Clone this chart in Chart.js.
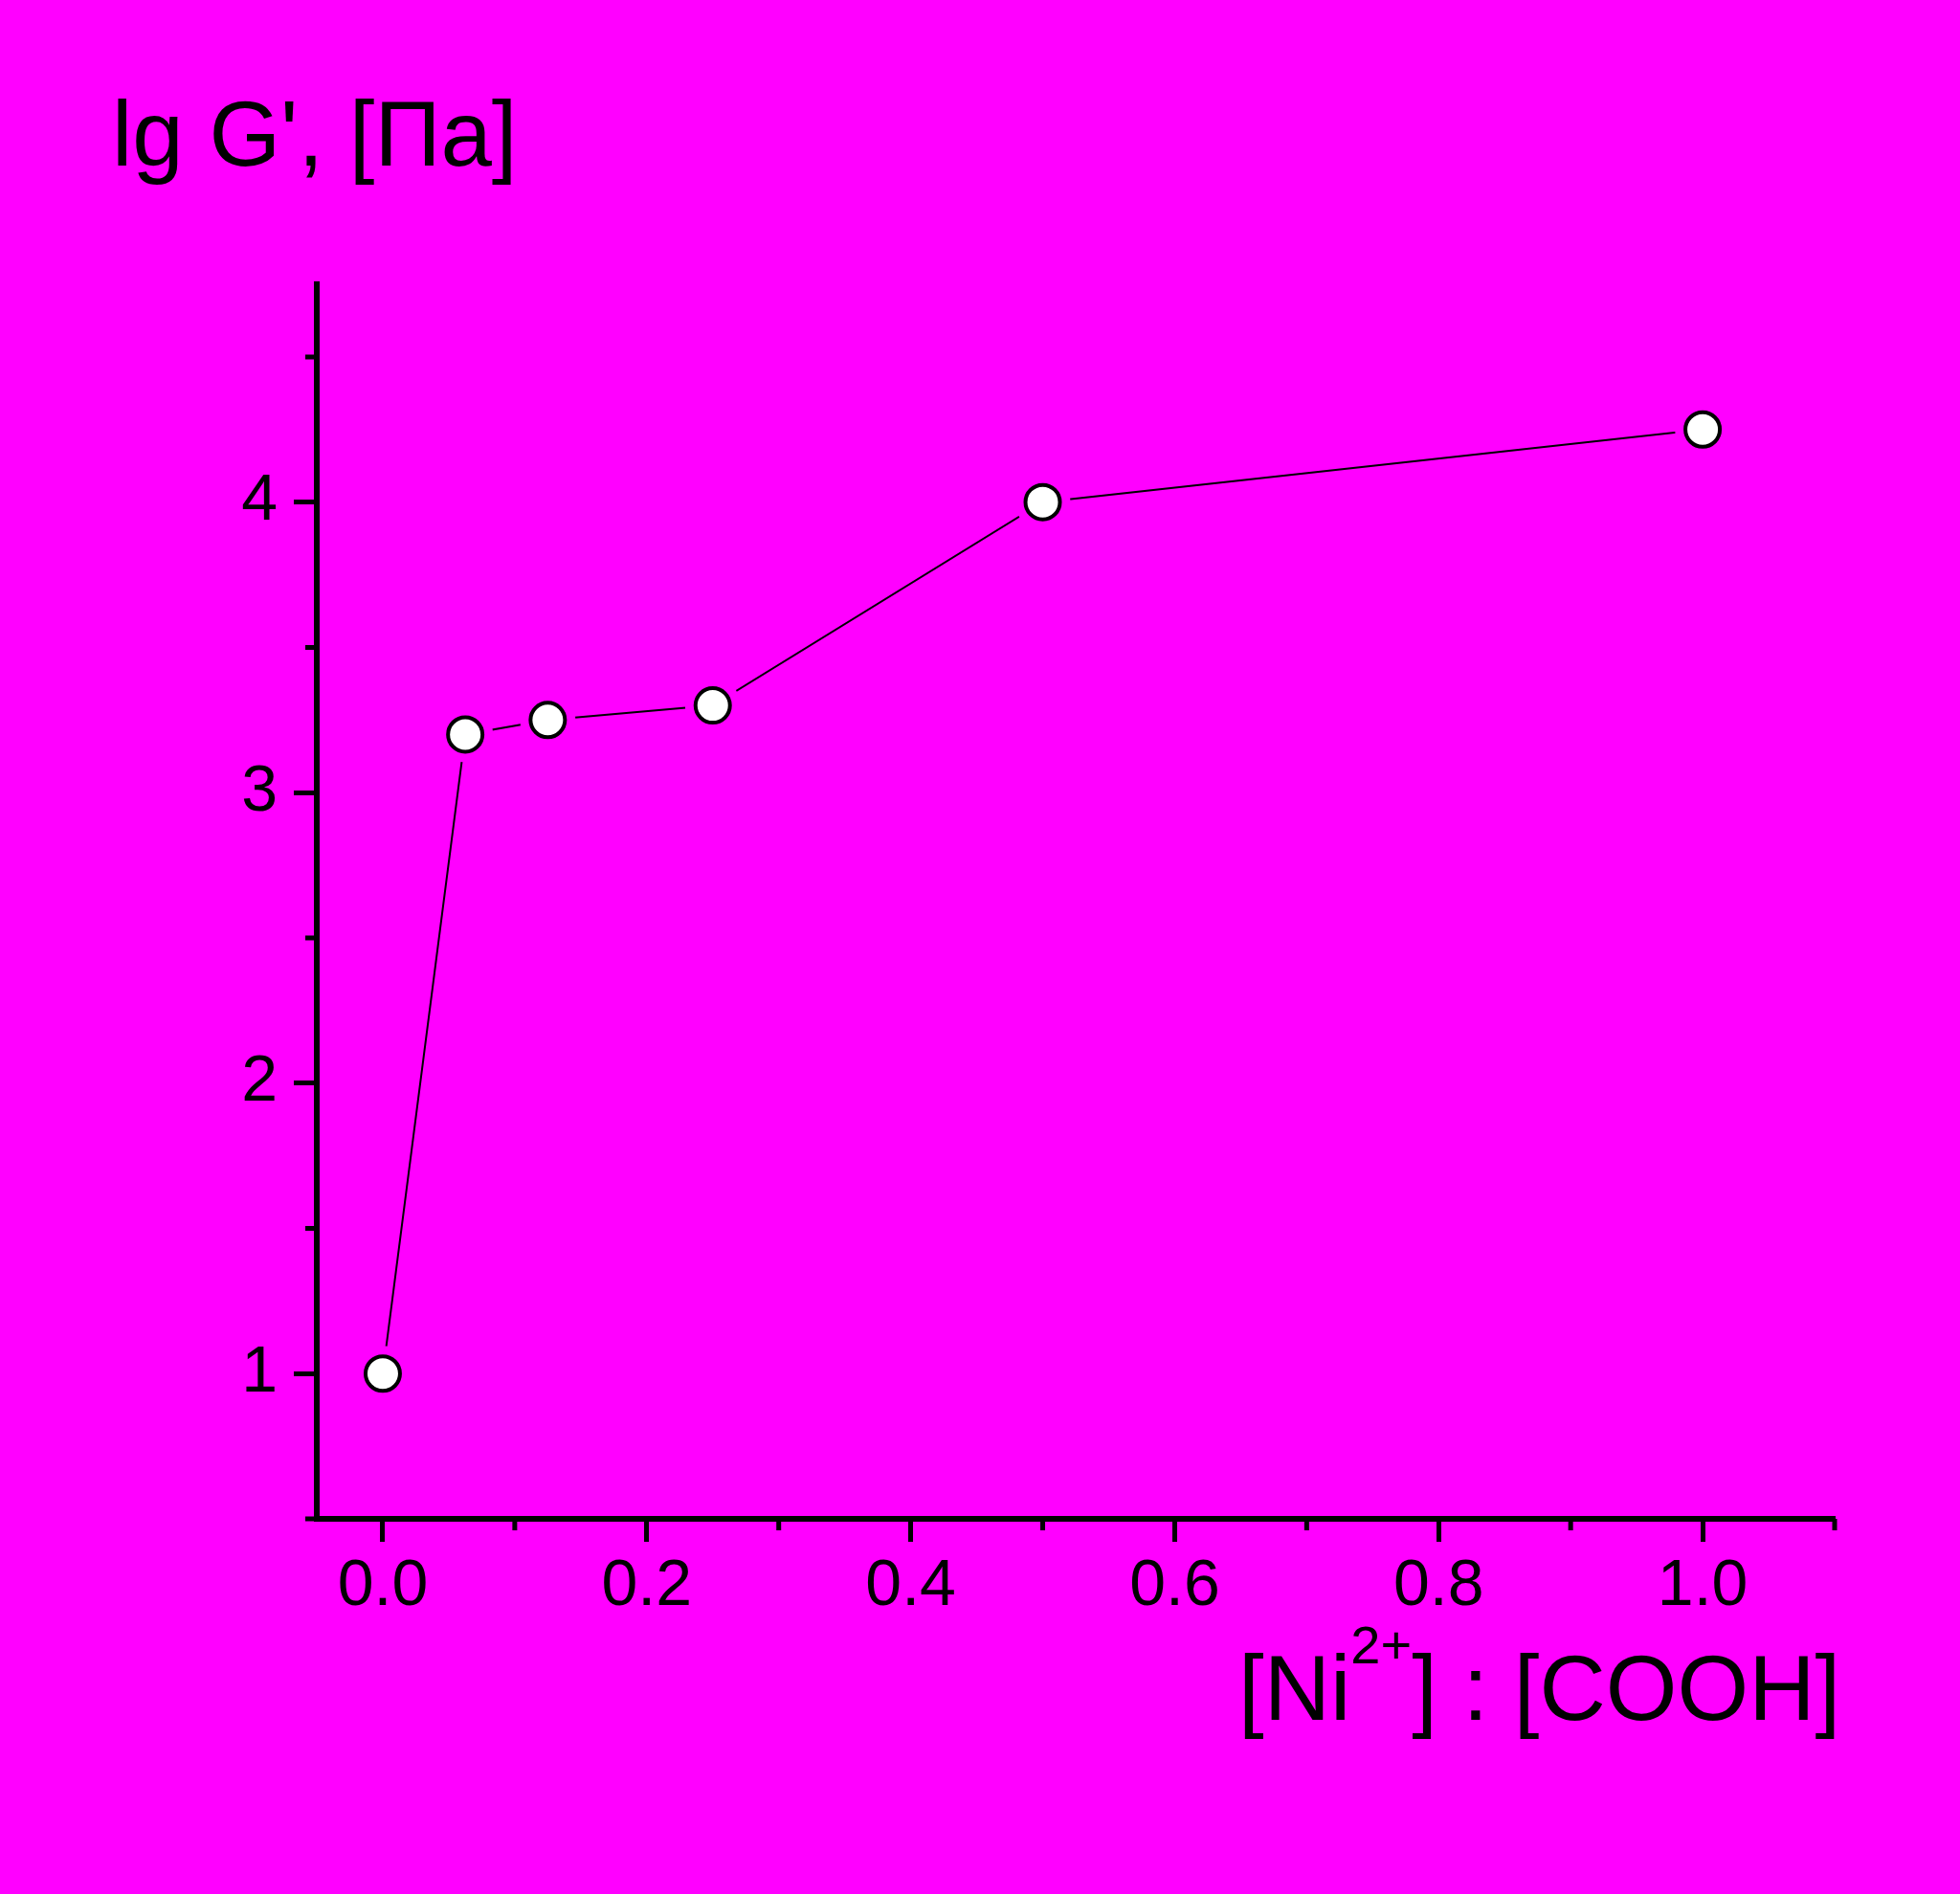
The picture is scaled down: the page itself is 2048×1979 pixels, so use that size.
<!DOCTYPE html>
<html>
<head>
<meta charset="utf-8">
<script src="https://cdn.jsdelivr.net/npm/chart.js@4.4.1/dist/chart.umd.min.js"></script>
<style>
  html, body { margin: 0; padding: 0; background: #ff00ff; }
  canvas { display: block; }
</style>
</head>
<body>
<canvas id="gChart" width="2048" height="1979"></canvas>
<script>
// lg G' against the Ni2+ : COOH ratio
const ratio = [0, 0.0625, 0.125, 0.25, 0.5, 1.0];
const lgG = [1.0, 3.2, 3.25, 3.3, 4.0, 4.25];

const xTickValues = [0, 0.2, 0.4, 0.6, 0.8, 1.0];
const xTickLabels = ['0.0', '0.2', '0.4', '0.6', '0.8', '1.0'];
const xMinorTicks = [0.1, 0.3, 0.5, 0.7, 0.9, 1.1];
const yTickValues = [1, 2, 3, 4];
const yTickLabels = ['1', '2', '3', '4'];
const yMinorTicks = [0.5, 1.5, 2.5, 3.5, 4.5];

const yTitle = "lg G', [Па]";
const xTitle = ['[Ni', '2+', '] : [COOH]'];

const pink = '#ff00ff';
const fontFamily = "'Liberation Sans', Arial, sans-serif";

const points = ratio.map((x, i) => ({ x: x, y: lgG[i] }));

// background, minor ticks and the two axis titles
const extras = {
  id: 'extras',
  beforeDraw(chart) {
    const c = chart.ctx;
    c.save();
    c.fillStyle = pink;
    c.fillRect(0, 0, chart.width, chart.height);
    c.restore();
  },
  afterDraw(chart) {
    const c = chart.ctx;
    const area = chart.chartArea;
    const xs = chart.scales.x, ys = chart.scales.y;
    c.save();
    c.strokeStyle = '#000';
    c.lineWidth = 5;
    c.beginPath();
    xMinorTicks.forEach(v => {
      const px = xs.getPixelForValue(v);
      c.moveTo(px, area.bottom);
      c.lineTo(px, area.bottom + 12);
    });
    yMinorTicks.forEach(v => {
      const py = ys.getPixelForValue(v);
      c.moveTo(area.left, py);
      c.lineTo(area.left - 12, py);
    });
    c.stroke();

    c.fillStyle = '#000';
    c.textBaseline = 'alphabetic';
    c.textAlign = 'left';
    c.font = '96px ' + fontFamily;
    c.fillText(yTitle, 117, 173);

    let x = 1294;
    const base = 1797;
    c.font = '96px ' + fontFamily;
    c.fillText(xTitle[0], x, base);
    x += c.measureText(xTitle[0]).width;
    c.font = '56px ' + fontFamily;
    c.fillText(xTitle[1], x, base - 59);
    x += c.measureText(xTitle[1]).width;
    c.font = '96px ' + fontFamily;
    c.fillText(xTitle[2], x, base);
    c.restore();
  }
};

const ctx = document.getElementById('gChart').getContext('2d');
new Chart(ctx, {
  type: 'scatter',
  data: {
    datasets: [{
      // open markers on top
      data: points,
      showLine: false,
      pointRadius: 18,
      pointBackgroundColor: '#fff',
      pointBorderColor: '#000',
      pointBorderWidth: 4,
      order: 1
    },
    {
      // thin line, broken near each marker
      data: points,
      showLine: true,
      borderColor: '#000',
      borderWidth: 2,
      pointRadius: 29,
      pointBackgroundColor: pink,
      pointBorderWidth: 0,
      order: 2
    }]
  },
  options: {
    responsive: false,
    animation: false,
    events: [],
    layout: { padding: { left: 0, top: 297, right: 131, bottom: 0 } },
    plugins: { legend: { display: false }, tooltip: { enabled: false } },
    scales: {
      x: {
        type: 'linear',
        position: 'bottom',
        min: -0.05,
        max: 1.1,
        afterBuildTicks: s => { s.ticks = xTickValues.map(v => ({ value: v })); },
        afterFit: s => { s.height = 392; },
        ticks: {
          callback: (v, i) => xTickLabels[i],
          color: '#000',
          padding: 6,
          font: { size: 68, family: fontFamily }
        },
        grid: { drawOnChartArea: false, tickLength: 24, tickWidth: 5, tickColor: '#000' },
        border: { color: '#000', width: 6 }
      },
      y: {
        type: 'linear',
        min: 0.5,
        max: 4.75,
        afterBuildTicks: s => { s.ticks = yTickValues.map(v => ({ value: v })); },
        afterFit: s => { s.width = 331; },
        ticks: {
          callback: (v, i) => yTickLabels[i],
          color: '#000',
          padding: 17,
          font: { size: 68, family: fontFamily }
        },
        grid: { drawOnChartArea: false, tickLength: 24, tickWidth: 5, tickColor: '#000' },
        border: { color: '#000', width: 6 }
      }
    }
  },
  plugins: [extras]
});
</script>
</body>
</html>
